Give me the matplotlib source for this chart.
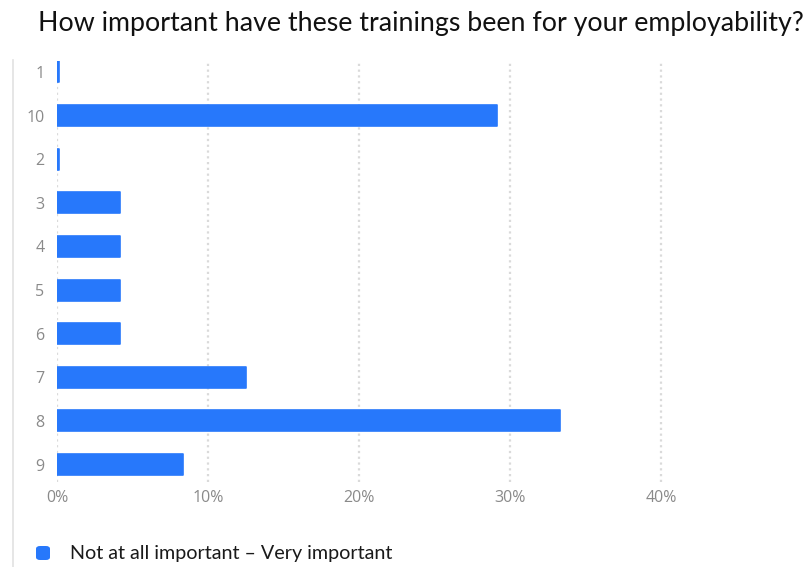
import numpy as np
import matplotlib
matplotlib.use("Agg")
import matplotlib.pyplot as plt
from matplotlib.lines import Line2D
from matplotlib.patches import FancyBboxPatch

# Survey answers, share of respondents (%)
categories = ["1", "10", "2", "3", "4", "5", "6", "7", "8", "9"]
shares = [0.0, 29.17, 0.0, 4.17, 4.17, 4.17, 4.17, 12.5, 33.33, 8.33]
x_ticks = [0, 10, 20, 30, 40]
x_tick_labels = ["0%", "10%", "20%", "30%", "40%"]

title = "How important have these trainings been for your employability?"
legend_label = "Not at all important \u2013 Very important"

BAR_COLOR = "#2778fb"
TICK_COLOR = "#8a8a8a"

fig = plt.figure(figsize=(8.11, 5.67), dpi=100)
W, H = 811, 567
ax = fig.add_axes([57 / W, 1 - 482 / H, 755 / W, (482 - 61) / H])

pos = np.arange(len(categories))
# zero answers still get a thin stub so the row is visible
drawn = np.maximum(shares, 0.15)
ax.barh(pos, drawn, height=0.48, color=BAR_COLOR, edgecolor=BAR_COLOR,
        linewidth=1.2, joinstyle="round", zorder=3)

ax.set_xlim(0, 50)
ax.set_ylim(9.4, -0.25)
ax.set_yticks(pos)
ax.set_yticklabels(categories, fontfamily="Open Sans", fontsize=11.5, color=TICK_COLOR)
ax.set_xticks(x_ticks)
ax.set_xticklabels(x_tick_labels, fontfamily="Open Sans", fontsize=11.5, color=TICK_COLOR)
ax.tick_params(axis="both", length=0)
ax.tick_params(axis="y", pad=9)
ax.tick_params(axis="x", pad=6)
for s in ax.spines.values():
    s.set_visible(False)
ax.grid(axis="x", color="#dadada", linestyle=(0, (1.0, 1.6)), linewidth=1.6, zorder=0)
ax.patch.set_alpha(0)

# title
fig.text(421 / W, 1 - 24 / H, title, ha="center", va="center",
         fontfamily="Lato", fontsize=19.3, color="#111111")

# thin left rule of the panel
fig.add_artist(Line2D([13 / W, 13 / W], [0, 1 - 60 / H], color="#e2e2e2", linewidth=1.2))

# legend
fig.add_artist(FancyBboxPatch((36 / W, 1 - 560 / H), 14 / W, 14 / H,
                              boxstyle="round,pad=0,rounding_size=0.005",
                              transform=fig.transFigure, facecolor=BAR_COLOR,
                              edgecolor="none"))
fig.text(70 / W, 1 - 553 / H, legend_label, ha="left", va="center",
         fontfamily="Lato", fontsize=14.2, color="#1a1a1a")

fig.savefig("out.png", dpi=100)
